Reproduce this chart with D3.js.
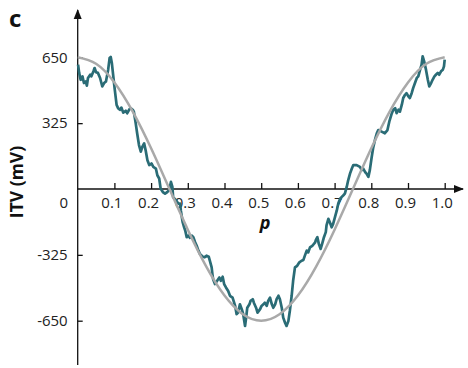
<!DOCTYPE html>
<html>
<head>
<meta charset="utf-8">
<script src="https://cdn.jsdelivr.net/npm/d3@7"></script>
<style>
  body { margin: 0; background: #fff; }
  svg { display: block; }
</style>
</head>
<body>
<svg id="chart"></svg>
<script>
// valeurs
const xTicks = [0.1, 0.2, 0.3, 0.4, 0.5, 0.6, 0.7, 0.8, 0.9, 1.0];
const yTicks = [650, 325, -325, -650];

// courbe grise (ajustement)
const fitP = [0, 0.05, 0.1, 0.15, 0.2, 0.25, 0.3, 0.35, 0.4, 0.45, 0.5,
              0.55, 0.6, 0.65, 0.7, 0.75, 0.8, 0.85, 0.9, 0.95, 1.0];
const fitITV = [650, 618, 526, 382, 201, 0, -201, -382, -526, -618, -650,
                -618, -526, -382, -201, 0, 201, 382, 526, 618, 650];

// signal mesuré (courbe bleu-vert)
const measP = [0.001, 0.004, 0.008, 0.013, 0.017, 0.022, 0.025, 0.028, 0.034, 0.037,
  0.043, 0.046, 0.050, 0.055, 0.061, 0.067, 0.072, 0.077, 0.083, 0.087,
  0.090, 0.093, 0.097, 0.101, 0.106, 0.110, 0.115, 0.119, 0.124, 0.131,
  0.135, 0.140, 0.144, 0.150, 0.153, 0.158, 0.162, 0.167, 0.172, 0.176,
  0.181, 0.185, 0.190, 0.195, 0.201, 0.206, 0.213, 0.217, 0.222, 0.226,
  0.232, 0.238, 0.244, 0.250, 0.254, 0.258, 0.260, 0.268, 0.274, 0.279,
  0.281, 0.286, 0.290, 0.293, 0.297, 0.301, 0.306, 0.311, 0.315, 0.320,
  0.324, 0.329, 0.333, 0.341, 0.346, 0.351, 0.357, 0.360, 0.365, 0.367,
  0.369, 0.374, 0.380, 0.386, 0.390, 0.395, 0.399, 0.404, 0.410, 0.415,
  0.422, 0.429, 0.433, 0.437, 0.442, 0.447, 0.451, 0.456, 0.459, 0.462,
  0.468, 0.471, 0.477, 0.480, 0.486, 0.490, 0.497, 0.501, 0.506, 0.510,
  0.515, 0.519, 0.524, 0.529, 0.533, 0.538, 0.542, 0.547, 0.551, 0.556,
  0.560, 0.565, 0.569, 0.574, 0.578, 0.583, 0.587, 0.592, 0.598, 0.604,
  0.610, 0.615, 0.619, 0.624, 0.628, 0.633, 0.640, 0.647, 0.649, 0.653,
  0.657, 0.662, 0.666, 0.671, 0.676, 0.678, 0.683, 0.687, 0.692, 0.696,
  0.701, 0.706, 0.710, 0.715, 0.719, 0.724, 0.728, 0.733, 0.737, 0.742,
  0.747, 0.751, 0.760, 0.769, 0.774, 0.778, 0.783, 0.787, 0.792, 0.796,
  0.801, 0.805, 0.810, 0.815, 0.819, 0.828, 0.837, 0.844, 0.849, 0.856,
  0.860, 0.865, 0.869, 0.874, 0.878, 0.883, 0.887, 0.892, 0.896, 0.901,
  0.905, 0.910, 0.914, 0.919, 0.924, 0.928, 0.933, 0.937, 0.940, 0.944,
  0.949, 0.954, 0.958, 0.963, 0.967, 0.972, 0.976, 0.981, 0.985, 0.990,
  0.995, 0.998, 1.0];
const measITV = [614, 573, 539, 556, 523, 531, 510, 548, 564, 556,
  581, 597, 576, 573, 548, 506, 523, 531, 589, 647,
  652, 622, 556, 490, 415, 399, 391, 402, 377, 386,
  374, 391, 399, 391, 382, 325, 275, 217, 184, 208,
  225, 192, 142, 118, 126, 109, 101, 68, 52, 2,
  -15, -23, -15, -3, 35, 10, -40, -56, -72, -72,
  -106, -164, -189, -205, -238, -230, -241, -230, -238, -263,
  -279, -304, -321, -334, -337, -329, -334, -354, -387, -420,
  -445, -469, -453, -437, -453, -433, -469, -486, -503, -527,
  -536, -577, -618, -610, -569, -593, -618, -676, -635, -586,
  -569, -552, -544, -561, -586, -610, -593, -577, -569, -561,
  -577, -552, -536, -569, -586, -569, -544, -527, -544, -586,
  -635, -660, -676, -652, -602, -527, -453, -387, -379, -362,
  -354, -350, -329, -304, -313, -288, -279, -263, -251, -238,
  -271, -296, -271, -238, -213, -180, -147, -164, -189, -172,
  -139, -106, -72, -48, -40, -31, -23, 10, 43, 76,
  101, 118, 118, 109, 93, 101, 84, 76, 60, 93,
  157, 202, 242, 275, 291, 283, 275, 291, 332, 374,
  391, 399, 374, 391, 382, 415, 449, 465, 473, 457,
  449, 473, 498, 523, 548, 556, 589, 614, 655, 630,
  589, 539, 506, 523, 539, 556, 564, 573, 564, 581,
  589, 605, 639];

const width = 468, height = 368;
const font = "'Open Sans', 'Noto Sans', sans-serif";

const svg = d3.select("#chart")
    .attr("width", width)
    .attr("height", height);

const x = d3.scaleLinear().domain([0, 1]).range([77.7, 444.7]);
const y = d3.scaleLinear().domain([-650, 650]).range([320.7, 57.3]);

// flèches
svg.append("defs").append("marker")
    .attr("id", "arrow")
    .attr("viewBox", "0 0 10 10")
    .attr("refX", 9).attr("refY", 5)
    .attr("markerWidth", 10).attr("markerHeight", 10)
    .attr("markerUnits", "userSpaceOnUse")
    .attr("orient", "auto")
    .append("path")
    .attr("d", "M0,1 L10,5 L0,9 Z")
    .attr("fill", "#111");

// axe Y
svg.append("line")
    .attr("x1", x(0)).attr("x2", x(0))
    .attr("y1", 365).attr("y2", 10)
    .attr("stroke", "#111").attr("stroke-width", 1.3)
    .attr("marker-end", "url(#arrow)");

// axe X
svg.append("line")
    .attr("x1", x(0)).attr("x2", 463)
    .attr("y1", y(0)).attr("y2", y(0))
    .attr("stroke", "#111").attr("stroke-width", 1.3)
    .attr("marker-end", "url(#arrow)");

const yAxis = svg.append("g")
    .attr("transform", `translate(${x(0)},0)`)
    .call(d3.axisLeft(y).tickValues(yTicks).tickSize(-5).tickPadding(10).tickFormat(d => String(d)));
yAxis.select(".domain").remove();

const xAxis = svg.append("g")
    .attr("transform", `translate(0,${y(0)})`)
    .call(d3.axisBottom(x).tickValues(xTicks).tickSize(-6).tickPadding(8).tickFormat(d3.format(".1f")));
xAxis.select(".domain").remove();
xAxis.selectAll("text").attr("dx", -3);

svg.selectAll(".tick line").attr("stroke", "#111").attr("stroke-width", 1.3);
svg.selectAll(".tick text")
    .attr("fill", "#222")
    .style("font-family", font)
    .style("font-size", "15px");

// le zéro à l'origine
svg.append("text")
    .attr("x", 68).attr("y", 207.5)
    .attr("text-anchor", "end")
    .attr("fill", "#222")
    .style("font-family", font)
    .style("font-size", "15px")
    .text("0");

// courbes
const fitLine = d3.line()
    .x((d, i) => x(fitP[i]))
    .y(d => y(d))
    .curve(d3.curveNatural);

const measLine = d3.line()
    .x((d, i) => x(measP[i]))
    .y(d => y(d));

svg.append("path")
    .attr("d", measLine(measITV))
    .attr("fill", "none")
    .attr("stroke", "#2a6c76")
    .attr("stroke-width", 2.7)
    .attr("stroke-linejoin", "round");

svg.append("path")
    .attr("d", fitLine(fitITV))
    .attr("fill", "none")
    .attr("stroke", "#a9a9a9")
    .attr("stroke-width", 2.5);

// titres
svg.append("text")
    .attr("transform", "translate(23,182) rotate(-90)")
    .attr("text-anchor", "middle")
    .attr("fill", "#111")
    .style("font-family", font)
    .style("font-size", "17.5px")
    .style("font-weight", "bold")
    .text("ITV (mV)");

svg.append("text")
    .attr("x", 265).attr("y", 229)
    .attr("text-anchor", "middle")
    .attr("fill", "#111")
    .style("font-family", font)
    .style("font-size", "18px")
    .style("font-weight", "bold")
    .style("font-style", "italic")
    .text("p");

svg.append("text")
    .attr("x", 9).attr("y", 27)
    .attr("fill", "#111")
    .style("font-family", font)
    .style("font-size", "24px")
    .style("font-weight", "bold")
    .text("c");
</script>
</body>
</html>
